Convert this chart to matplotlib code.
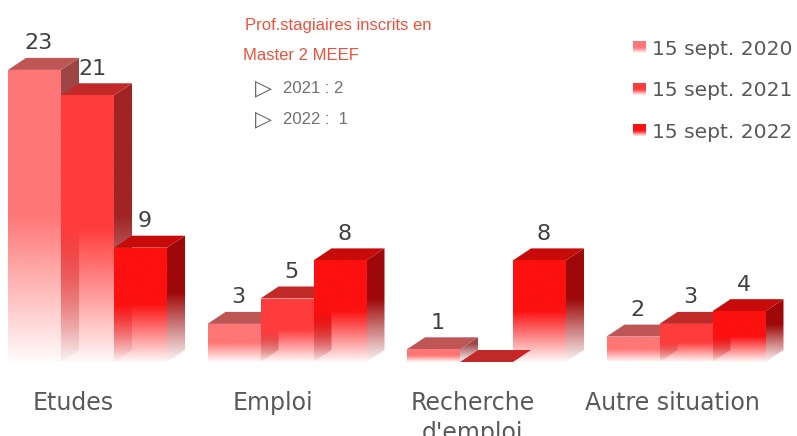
#!/usr/bin/env python3
"""
3D-style grouped bar chart: situation of former students at three dates
"""

import numpy as np
import matplotlib
matplotlib.use('Agg')
import matplotlib.pyplot as plt
from matplotlib.patches import Polygon
from matplotlib.colors import to_rgb
from matplotlib import font_manager

# Data
categories = ['Etudes', 'Emploi', "Recherche\nd'emploi", 'Autre situation']
series = ['15 sept. 2020', '15 sept. 2021', '15 sept. 2022']
v2020 = [23, 3, 1, 2]
v2021 = [21, 5, 0, 3]
v2022 = [9, 8, 8, 4]
values = [v2020, v2021, v2022]

note_title = ['Prof.stagiaires inscrits en', 'Master 2 MEEF']
note_lines = ['2021 : 2', '2022 :  1']

front_colors = ['#FF7676', '#FF3C3C', '#FC1010']
top_colors = ['#BF5656', '#C22A2A', '#C70A0A']
side_colors = ['#9E4545', '#A02424', '#9E0808']

# Layout (pixels)
W, H = 797, 436
PX_X = 199.5     # pixels per category slot
PX_Y = 12.7      # pixels per unit
BASE = 362       # baseline, px from top
FIRST = 87.5     # centre of first group, px from left

names = {f.name for f in font_manager.fontManager.ttflist}
if 'Liberation Sans Narrow' in names:
    NARROW, NOTE_SIZE = 'Liberation Sans Narrow', 14
else:
    NARROW, NOTE_SIZE = 'Liberation Sans', 12

fig = plt.figure(figsize=(W / 100, H / 100), dpi=100)
ax = fig.add_axes([0, 0, 1, 1])

bw = 53 / PX_X
dx = 18 / PX_X
dy = 12 / PX_Y


def px(x, y):
    """pixel position (from top-left) -> data coords"""
    return -FIRST / PX_X + x / PX_X, (BASE - y) / PX_Y


def gradient_face(verts, color, fade_top, z):
    poly = Polygon(verts, closed=True, facecolor='none', edgecolor='none', zorder=z)
    ax.add_patch(poly)
    xs = [p[0] for p in verts]
    ys = [p[1] for p in verts]
    y0, y1 = min(ys), max(ys)
    n = 200
    yy = np.linspace(y0, y1, n)
    if fade_top > 0:
        s = np.clip((yy - y0) / fade_top, 0, 1)
    else:
        s = np.ones_like(yy)
    alpha = 0.03 + 0.97 * s
    rgba = np.zeros((n, 1, 4))
    rgba[..., :3] = to_rgb(color)
    rgba[:, 0, 3] = alpha
    im = ax.imshow(rgba, extent=[min(xs), max(xs), y0, y1], origin='lower',
                   aspect='auto', interpolation='bilinear', zorder=z)
    im.set_clip_path(poly)


z = 1
for i in range(len(categories)):
    for j in range(len(series)):
        v = values[j][i]
        x0 = i + (j - 1.5) * bw
        x1 = x0 + bw
        fade = 0.5 * v
        # side face
        if v > 0:
            side = [(x1, 0), (x1 + dx, dy), (x1 + dx, v + dy), (x1, v)]
            gradient_face(side, side_colors[j], fade + dy, z)
        # top face
        top = [(x0, v), (x1, v), (x1 + dx, v + dy), (x0 + dx, v + dy)]
        ax.add_patch(Polygon(top, closed=True, facecolor=top_colors[j],
                             edgecolor='none', zorder=z))
        # front face
        if v > 0:
            front = [(x0, 0), (x1, 0), (x1, v), (x0, v)]
            gradient_face(front, front_colors[j], fade, z)
            ax.text(x0 + bw / 2 + dx * 0.25, v + dy + 0.35, str(v),
                    ha='center', va='bottom', fontsize=16, color='#404040',
                    zorder=50)
        z += 1
    ax.text(i - 14 / PX_X, px(0, 391)[1], categories[i], ha='center', va='top',
            fontsize=17, color='#595959', linespacing=1.33, zorder=50)

# Legend
for k, name in enumerate(series):
    yc = 47.5 + k * 41.5
    xa, ya = px(633, yc + 6)
    xb, yb = px(646, yc - 6)
    sq = [(xa, ya), (xb, ya), (xb, yb), (xa, yb)]
    gradient_face(sq, front_colors[k], 0.45 * (yb - ya), 60)
    fig.text(652 / W, 1 - (yc + 7.5) / H, name, ha='left', va='baseline',
             fontsize=14.6, color='#595959')

# Note
fig.text(245 / W, 1 - 30 / H, note_title[0], ha='left', va='baseline',
         fontsize=NOTE_SIZE, color='#F0503C', family=[NARROW, 'DejaVu Sans'])
fig.text(243 / W, 1 - 60 / H, note_title[1], ha='left', va='baseline',
         fontsize=NOTE_SIZE, color='#F0503C', family=[NARROW, 'DejaVu Sans'])
for k, line in enumerate(note_lines):
    yb = 93 + k * 31
    fig.text(255 / W, 1 - (yb + 1) / H, '\u25B7', ha='left', va='baseline',
             fontsize=16, color='#6A6A6A', family='DejaVu Sans', weight='bold')
    fig.text(283 / W, 1 - yb / H, line, ha='left', va='baseline',
             fontsize=NOTE_SIZE, color='#707070', family=[NARROW, 'DejaVu Sans'])

ax.set_xlim(-FIRST / PX_X, (W - FIRST) / PX_X)
ax.set_ylim(-(H - BASE) / PX_Y, BASE / PX_Y)
ax.axis('off')

fig.savefig('out.png', dpi=100)
